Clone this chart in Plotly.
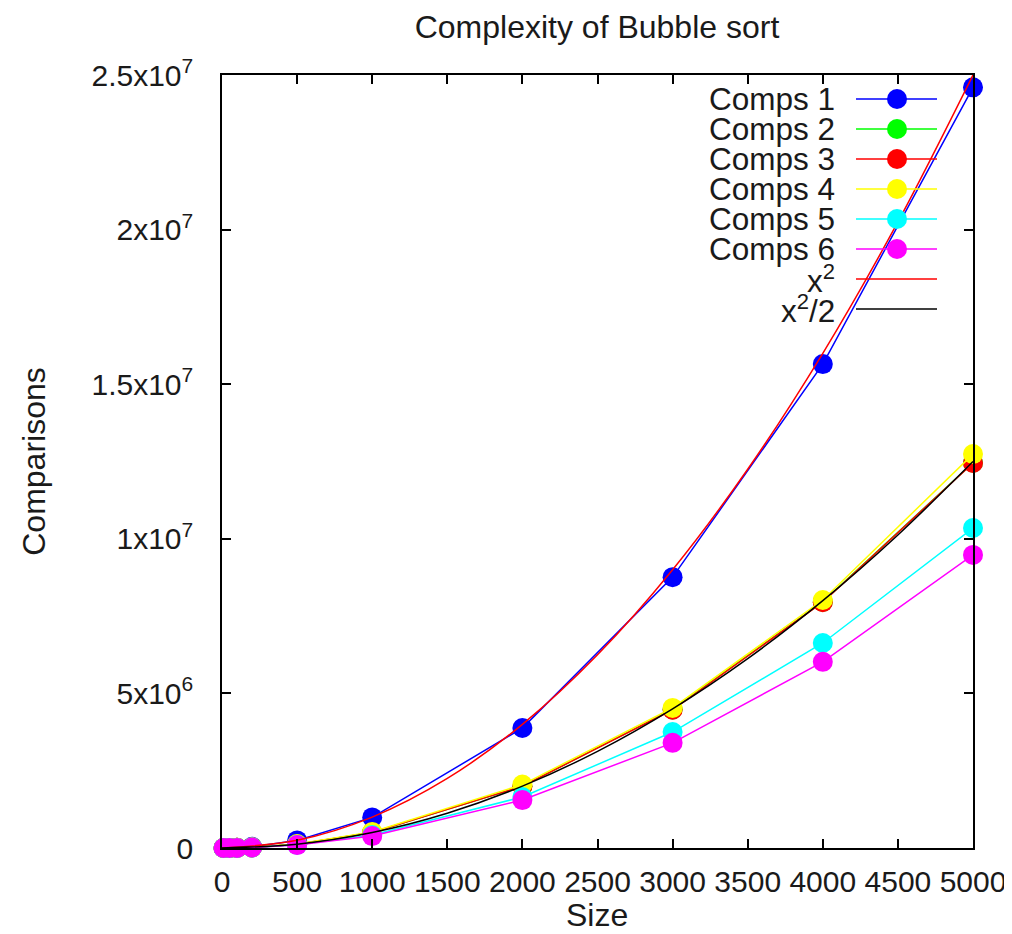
import plotly.graph_objects as go

# ---- data ----
sizes = [10, 50, 100, 200, 500, 1000, 2000, 3000, 4000, 5000]
comps1 = [100, 2450, 9800, 39200, 245000, 990000, 3880000, 8760000, 15650000, 24600000]
comps2 = [45, 1225, 4950, 19900, 124750, 499500, 1999000, 4480000, 7960000, 12460000]
comps3 = [45, 1225, 4950, 19900, 124750, 499500, 1999000, 4470000, 7950000, 12450000]
comps4 = [50, 1300, 5200, 21000, 131000, 520000, 2050000, 4530000, 8020000, 12740000]
comps5 = [40, 1000, 4000, 16500, 103000, 420000, 1650000, 3750000, 6630000, 10350000]
comps6 = [35, 900, 3700, 15000, 95000, 385000, 1550000, 3400000, 6020000, 9480000]

fn_x = [0, 500, 1000, 1500, 2000, 2500, 3000, 3500, 4000, 4500, 5000]
fn_sq = [0, 250000, 1000000, 2250000, 4000000, 6250000, 9000000, 12250000,
         16000000, 20250000, 25000000]
fn_half = [0, 125000, 500000, 1125000, 2000000, 3125000, 4500000, 6125000,
           8000000, 10125000, 12500000]

series_names = ["Comps 1", "Comps 2", "Comps 3", "Comps 4", "Comps 5", "Comps 6"]
series_values = [comps1, comps2, comps3, comps4, comps5, comps6]
series_colors = ["#0000ff", "#00ff00", "#ff0000", "#ffff00", "#00ffff", "#ff00ff"]

fn_names = ["x<sup>2</sup>", "x<sup>2</sup>/2"]
fn_values = [fn_sq, fn_half]
fn_colors = ["#ff0000", "#000000"]

x_ticks = [0, 500, 1000, 1500, 2000, 2500, 3000, 3500, 4000, 4500, 5000]
y_ticks = [0, 5000000, 10000000, 15000000, 20000000, 25000000]
y_ticktext = ["0", "5x10<sup>6</sup>", "1x10<sup>7</sup>", "1.5x10<sup>7</sup>",
              "2x10<sup>7</sup>", "2.5x10<sup>7</sup>"]

FONT = "Liberation Sans, Arial, sans-serif"
FS = 32
FS_KEY = 31.5
FS_TICK = 30
TXT = "#1a1a1a"

fig = go.Figure()
for name, vals, col in zip(series_names, series_values, series_colors):
    fig.add_trace(go.Scatter(
        x=sizes, y=vals, name=name, mode="lines+markers",
        line=dict(color=col, width=1.5),
        marker=dict(color=col, size=20, symbol="circle"),
        cliponaxis=False, showlegend=False))
for name, vals, col in zip(fn_names, fn_values, fn_colors):
    fig.add_trace(go.Scatter(
        x=fn_x, y=vals, name=name, mode="lines",
        line=dict(color=col, width=1.5, shape="spline"),
        cliponaxis=False, showlegend=False))

# ---- gnuplot-style key (text right-aligned, sample to the right) ----
# pixel positions measured on the reference (page coordinates)
x0, x1 = 222, 973
y0, y1 = 75, 848
def px_x(p):
    return (p - x0) / (x1 - x0)
def px_y(p):
    return (y1 - p) / (y1 - y0)

key_names = series_names + fn_names
key_colors = series_colors + fn_colors
for i, (nm, col) in enumerate(zip(key_names, key_colors)):
    yy = px_y(99 + 30 * i)
    fig.add_annotation(xref="paper", yref="paper", x=px_x(837), y=yy,
                       text=nm, showarrow=False, xanchor="right", yanchor="middle",
                       font=dict(family=FONT, size=FS_KEY, color=TXT))
    fig.add_shape(type="line", xref="paper", yref="paper",
                  x0=px_x(856), x1=px_x(937), y0=yy, y1=yy,
                  line=dict(color=col, width=1.5))
    if i < len(series_names):
        r = 10
        fig.add_shape(type="circle", xref="paper", yref="paper",
                      x0=px_x(897 - r), x1=px_x(897 + r),
                      y0=px_y(99 + 30 * i + r), y1=px_y(99 + 30 * i - r),
                      line=dict(color=col, width=0), fillcolor=col)

# x axis title placed like gnuplot's xlabel
fig.add_annotation(xref="paper", yref="paper", x=px_x(597), y=px_y(915),
                   text="Size", showarrow=False, xanchor="center", yanchor="middle",
                   font=dict(family=FONT, size=FS, color=TXT))

axis_common = dict(showgrid=False, zeroline=False, showline=True, linecolor="black",
                   linewidth=1.5, ticks="inside", ticklen=9, tickwidth=1.5,
                   tickcolor="black", mirror="ticks", automargin=False,
                   ticklabeloverflow="allow",
                   tickfont=dict(family=FONT, size=FS_TICK, color=TXT))

# page has an 8px body margin, so the figure is 996x918 inside a 1012x934 window
fig.update_layout(
    width=996, height=918,
    margin=dict(l=214, r=31, t=67, b=78),
    paper_bgcolor="white", plot_bgcolor="white",
    showlegend=False,
    title=dict(text="Complexity of Bubble sort", x=589 / 996, xanchor="center",
               y=1 - 19 / 918, yanchor="middle",
               font=dict(family=FONT, size=FS, color=TXT)),
    xaxis=dict(range=[0, 5000], tickvals=x_ticks, ticklabelstandoff=6,
               **axis_common),
    yaxis=dict(range=[0, 25000000], tickvals=y_ticks, ticktext=y_ticktext,
               ticklabelstandoff=21,
               title=dict(text="Comparisons", standoff=36,
                          font=dict(family=FONT, size=FS, color=TXT)),
               **axis_common),
)

fig.write_html("out.html")
